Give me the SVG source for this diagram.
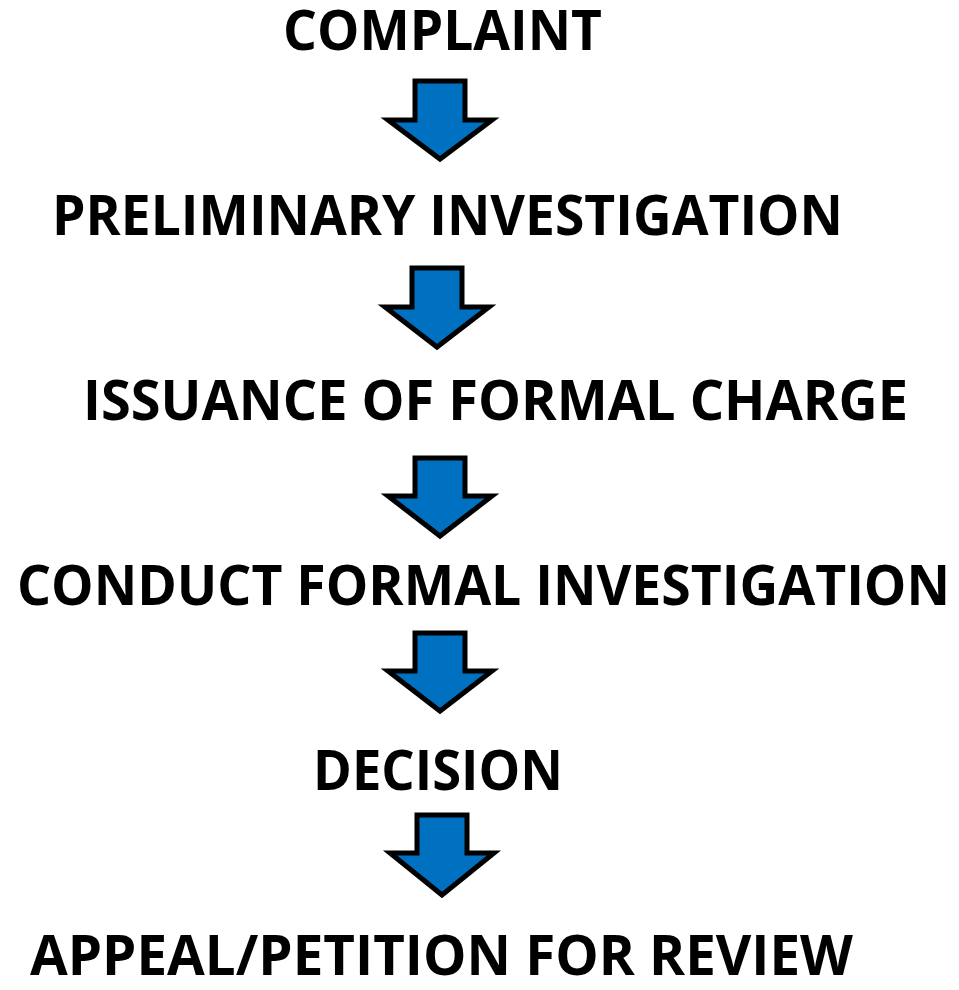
<svg xmlns="http://www.w3.org/2000/svg" width="959" height="990" viewBox="0 0 959 990">
<style>
.t{font-family:"Open Sans","Liberation Sans",sans-serif;font-weight:bold;font-size:56px;fill:#000}
.a{fill:#0070C0;stroke:#000;stroke-width:5;stroke-linejoin:miter}
</style>
<rect width="959" height="990" fill="#fff"/>
<g id="n1"><text class="t" x="283" y="50" textLength="319" lengthAdjust="spacingAndGlyphs">COMPLAINT</text></g>
<g id="n2"><text class="t" x="52" y="235" textLength="791" lengthAdjust="spacingAndGlyphs">PRELIMINARY INVESTIGATION</text></g>
<g id="n3"><text class="t" x="83" y="420" textLength="825" lengthAdjust="spacingAndGlyphs">ISSUANCE OF FORMAL CHARGE</text></g>
<g id="n4"><text class="t" x="17" y="605" textLength="933" lengthAdjust="spacingAndGlyphs">CONDUCT FORMAL INVESTIGATION</text></g>
<g id="n5"><text class="t" x="313" y="790" textLength="250" lengthAdjust="spacingAndGlyphs">DECISION</text></g>
<g id="n6"><text class="t" x="30" y="975" textLength="823" lengthAdjust="spacingAndGlyphs">APPEAL/PETITION FOR REVIEW</text></g>
<g id="connectors">
<polygon class="a" points="415,81 465,81 465,120 492,120 440,159 388,120 415,120"/>
<polygon class="a" points="412,268 462,268 462,307 489,307 437,347 385,307 412,307"/>
<polygon class="a" points="415,458 465,458 465,496 492,496 440,536 388,496 415,496"/>
<polygon class="a" points="415,633 465,633 465,671 492,671 440,711 388,671 415,671"/>
<polygon class="a" points="417,815 467,815 467,853 494,853 442,895 390,853 417,853"/>
</g>
</svg>
